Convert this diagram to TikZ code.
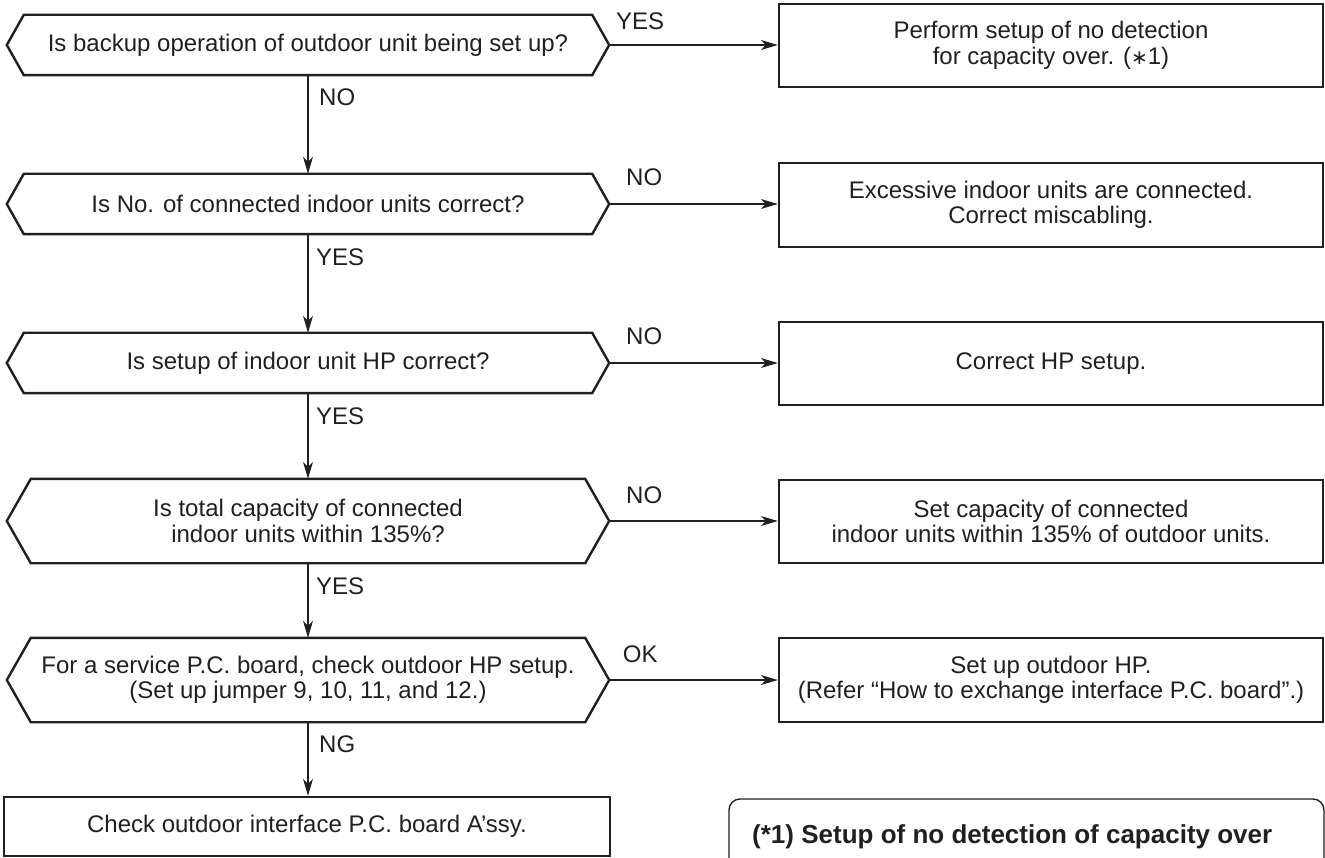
\documentclass[tikz,border=0pt]{standalone}
\usepackage{fontspec}
\setmainfont{Liberation Sans}
\newfontfamily\symfont{DejaVu Sans}
\usetikzlibrary{arrows.meta,calc}
\definecolor{ink}{HTML}{231F20}
\tikzset{
  every node/.style={text=ink, font=\fontsize{24}{25.5}\selectfont},
  hexnode/.style={inner sep=0pt, align=center, minimum width=602pt},
  boxnode/.style={draw=ink, line width=2.4pt, inner sep=0pt, align=center, minimum width=544pt},
  hexline/.style={draw=ink, line width=2.4pt, line join=miter},
  flow/.style={draw=ink, line width=1.3pt, -{Stealth[length=17pt,width=10pt,inset=5pt]}},
  lbl/.style={inner sep=0pt},
}
\newcommand\hexframe[2]{\path[hexline] ($(#1.north west)+(#2,0)$) -- ($(#1.north east)+(-#2,0)$) -- (#1.east) -- ($(#1.south east)+(-#2,0)$) -- ($(#1.south west)+(#2,0)$) -- (#1.west) -- cycle;}
\begin{document}
\begin{tikzpicture}[x=1pt,y=-1pt]
\useasboundingbox (0,0) rectangle (1325,858);
% decisions
\node[hexnode, minimum height=60pt] (q1) at (308,45) {Is backup operation of outdoor unit being set up?};
\node[hexnode, minimum height=60pt] (q2) at (308,204) {Is No. of connected indoor units correct?};
\node[hexnode, minimum height=60pt] (q3) at (308,363) {Is setup of indoor unit HP correct?};
\node[hexnode, minimum height=84pt] (q4) at (308,521) {Is total capacity of connected\\indoor units within 135\%?};
\node[hexnode, minimum height=84pt] (q5) at (308,680) {For a service P.C. board, check outdoor HP setup.\\(Set up jumper 9, 10, 11, and 12.)};
\hexframe{q1}{17}
\hexframe{q2}{17}
\hexframe{q3}{17}
\hexframe{q4}{24}
\hexframe{q5}{24}
% actions
\node[boxnode, minimum height=83pt] (b1) at (1051,45.5) {Perform setup of no detection\\for capacity over. ({\symfont\fontsize{20}{20}\selectfont ∗}1)};
\node[boxnode, minimum height=84pt] (b2) at (1051,205) {Excessive indoor units are connected.\\Correct miscabling.};
\node[boxnode, minimum height=83pt] (b3) at (1051,363.5) {Correct HP setup.};
\node[boxnode, minimum height=83pt] (b4) at (1051,521.5) {Set capacity of connected\\indoor units within 135\% of outdoor units.};
\node[boxnode, minimum height=84pt] (b5) at (1051,680) {Set up outdoor HP.\\(Refer “How to exchange interface P.C. board”.)};
\node[boxnode, minimum width=606pt, minimum height=59pt] (b6) at (307,826.5) {Check outdoor interface P.C. board A’ssy.};
% note
\node[draw=ink, line width=1.4pt, rounded corners=11pt, minimum width=595pt, minimum height=100pt, inner sep=0pt] (note) at (1026.5,849) {};
\node[anchor=base west, inner sep=0pt, font=\fontsize{26}{28}\bfseries\selectfont] (notetext) at (752,843) {(*1) Setup of no detection of capacity over};
% connectors
\draw[flow] (q1.south) -- (q2.north);
\draw[flow] (q2.south) -- (q3.north);
\draw[flow] (q3.south) -- (q4.north);
\draw[flow] (q4.south) -- (q5.north);
\draw[flow] (q5.south) -- (q5.south |- b6.north);
\draw[flow] (q1.east) -- (b1.west |- q1.east);
\draw[flow] (q2.east) -- (b2.west |- q2.east);
\draw[flow] (q3.east) -- (b3.west |- q3.east);
\draw[flow] (q4.east) -- (b4.west |- q4.east);
\draw[flow] (q5.east) -- (b5.west |- q5.east);
% labels
\node[lbl, anchor=base west] (n1) at ($(q1.south)+(11,30)$) {NO};
\node[lbl, anchor=base west] (n2) at ($(q2.south)+(8,31)$) {YES};
\node[lbl, anchor=base west] (n3) at ($(q3.south)+(8,31)$) {YES};
\node[lbl, anchor=base west] (n4) at ($(q4.south)+(8,31)$) {YES};
\node[lbl, anchor=base west] (n5) at ($(q5.south)+(11,30)$) {NG};
\node[lbl, anchor=base] (r1) at ($(q1.east)+(31,-15)$) {YES};
\node[lbl, anchor=base] (r2) at ($(q2.east)+(35,-18)$) {NO};
\node[lbl, anchor=base] (r3) at ($(q3.east)+(35,-18)$) {NO};
\node[lbl, anchor=base] (r4) at ($(q4.east)+(35,-18)$) {NO};
\node[lbl, anchor=base] (r5) at ($(q5.east)+(31,-18)$) {OK};
\end{tikzpicture}
\end{document}
